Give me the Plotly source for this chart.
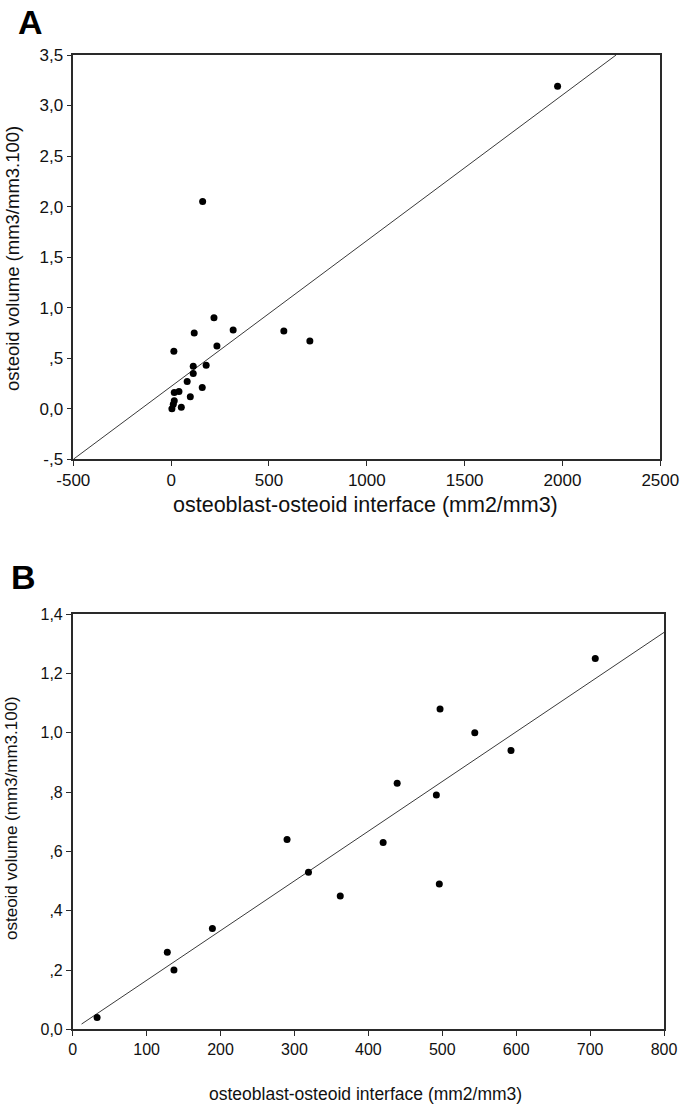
import plotly.graph_objects as go

# ---------------- Panel A data ----------------
a_x = [1975, 161, 219, 317, 118, 576, 709, 234, 14, 113, 179, 113, 82, 159,
       40, 16, 98, 16, 11, 52, 4]
a_y = [3.19, 2.05, 0.90, 0.78, 0.75, 0.77, 0.67, 0.62, 0.57, 0.42, 0.43, 0.35,
       0.27, 0.21, 0.17, 0.16, 0.12, 0.08, 0.045, 0.015, 0.0]
a_fit_x = [-500, 2274]
a_fit_y = [-0.5, 3.5]
a_xticks = [-500, 0, 500, 1000, 1500, 2000, 2500]
a_xticklabels = ["-500", "0", "500", "1000", "1500", "2000", "2500"]
a_yticks = [-0.5, 0.0, 0.5, 1.0, 1.5, 2.0, 2.5, 3.0, 3.5]
a_yticklabels = ["-,5", "0,0", ",5", "1,0", "1,5", "2,0", "2,5", "3,0", "3,5"]

# ---------------- Panel B data ----------------
b_x = [707, 497, 544, 593, 439, 492, 290, 319, 362, 420, 496, 189, 128, 137, 33]
b_y = [1.25, 1.08, 1.00, 0.94, 0.83, 0.79, 0.64, 0.53, 0.45, 0.63, 0.49, 0.34,
       0.26, 0.20, 0.04]
b_fit_x = [12, 800]
b_fit_y = [0.018, 1.338]
b_xticks = [0, 100, 200, 300, 400, 500, 600, 700, 800]
b_xticklabels = ["0", "100", "200", "300", "400", "500", "600", "700", "800"]
b_yticks = [0.0, 0.2, 0.4, 0.6, 0.8, 1.0, 1.2, 1.4]
b_yticklabels = ["0,0", ",2", ",4", ",6", ",8", "1,0", "1,2", "1,4"]

x_title = "osteoblast-osteoid interface (mm2/mm3)"
y_title = "osteoid volume (mm3/mm3.100)"

W, H = 685, 1110
FONT = "Liberation Sans, Arial, sans-serif"
AX = "#2a2a2a"
LINE = "#3a3a3a"

fig = go.Figure()

fig.add_trace(go.Scatter(x=a_fit_x, y=a_fit_y, mode="lines",
                         line=dict(color=LINE, width=1), xaxis="x", yaxis="y",
                         showlegend=False, hoverinfo="skip"))
fig.add_trace(go.Scatter(x=a_x, y=a_y, mode="markers",
                         marker=dict(color="black", size=7), xaxis="x", yaxis="y",
                         showlegend=False))
fig.add_trace(go.Scatter(x=b_fit_x, y=b_fit_y, mode="lines",
                         line=dict(color=LINE, width=1), xaxis="x2", yaxis="y2",
                         showlegend=False, hoverinfo="skip"))
fig.add_trace(go.Scatter(x=b_x, y=b_y, mode="markers",
                         marker=dict(color="black", size=7), xaxis="x2", yaxis="y2",
                         showlegend=False))


def axis_style(size, **kw):
    d = dict(showgrid=False, zeroline=False, showline=True, linecolor=AX,
             linewidth=1.5, mirror=True, ticks="outside", ticklen=5,
             tickwidth=1.3, tickcolor=AX, automargin=False,
             tickfont=dict(family=FONT, size=size, color="#111"))
    d.update(kw)
    return d


fig.update_layout(
    width=W, height=H,
    margin=dict(l=0, r=0, t=0, b=0, autoexpand=False),
    paper_bgcolor="white", plot_bgcolor="white",
    font=dict(family=FONT, color="#111"),
    xaxis=axis_style(17, domain=[73.3 / W, 660.3 / W], range=[-500, 2500],
                     tickvals=a_xticks, ticktext=a_xticklabels, anchor="y"),
    yaxis=axis_style(17, domain=[(H - 459.3) / H, (H - 55) / H], range=[-0.5, 3.5],
                     tickvals=a_yticks, ticktext=a_yticklabels, anchor="x"),
    xaxis2=axis_style(16, domain=[72.7 / W, 664 / W], range=[0, 800],
                      tickvals=b_xticks, ticktext=b_xticklabels, anchor="y2"),
    yaxis2=axis_style(16, domain=[(H - 1029.4) / H, (H - 614) / H], range=[0, 1.4],
                      tickvals=b_yticks, ticktext=b_yticklabels, anchor="x2"),
)

ann = [
    dict(text="<b>A</b>", x=16 / W, y=1 - 22 / H, xanchor="left", yanchor="middle",
         font=dict(size=34, family=FONT, color="black")),
    dict(text="<b>B</b>", x=9 / W, y=1 - 577 / H, xanchor="left", yanchor="middle",
         font=dict(size=34, family=FONT, color="black")),
    dict(text=x_title, x=366 / W, y=1 - 505 / H, xanchor="center", yanchor="middle",
         font=dict(size=21.5, family=FONT, color="#111")),
    dict(text=y_title, x=12 / W, y=1 - 259 / H, xanchor="center", yanchor="middle",
         textangle=-90, font=dict(size=18.5, family=FONT, color="#111")),
    dict(text=x_title, x=366 / W, y=1 - 1094 / H, xanchor="center", yanchor="middle",
         font=dict(size=17.5, family=FONT, color="#111")),
    dict(text=y_title, x=11 / W, y=1 - 818 / H, xanchor="center", yanchor="middle",
         textangle=-90, font=dict(size=17, family=FONT, color="#111")),
]
for a in ann:
    a.update(xref="paper", yref="paper", showarrow=False)
fig.update_layout(annotations=ann)

fig.write_html("out.html",
               config={"displayModeBar": False},
               post_script="document.body.style.margin='0px';"
                           "document.body.style.overflow='hidden';")
